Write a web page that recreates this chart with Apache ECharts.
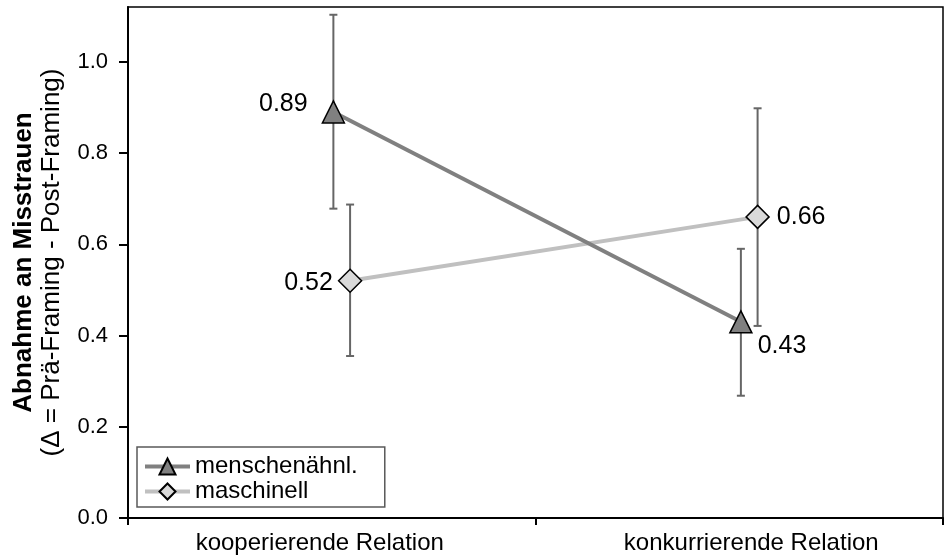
<!DOCTYPE html>
<html>
<head>
<meta charset="utf-8">
<script src="https://cdn.jsdelivr.net/npm/echarts@6/dist/echarts.min.js"></script>
<style>
  html, body { margin: 0; padding: 0; background: #fff; }
  #chart { width: 944px; height: 560px; }
</style>
</head>
<body>
<div id="chart"></div>
<script>
// data
var categories = ['kooperierende Relation', 'konkurrierende Relation'];
var menschMean = [0.89, 0.43];
var menschLow = [0.678, 0.268];
var menschHigh = [1.103, 0.59];
var maschMean = [0.52, 0.66];
var maschLow = [0.355, 0.421];
var maschHigh = [0.687, 0.898];
var yTicks = [0, 0.2, 0.4, 0.6, 0.8, 1.0];

var FONT = "'Liberation Sans', Arial, sans-serif";
// small horizontal shift of each group inside its category
var menschShift = 0.004;
var maschShift = 0.045;

// where the value labels sit around each point
var menschLabels = [
    { position: 'left', offset: [-9, -8] },
    { position: 'right', offset: [0, 24] }
];
var maschLabels = [
    { position: 'left', offset: [0, 2] },
    { position: 'right', offset: [2, 0] }
];

function points(mean, shift, labels) {
    return mean.map(function (v, i) {
        return { value: [i + 0.5 + shift, v], label: labels[i] };
    });
}
function bars(low, high, shift) {
    return low.map(function (v, i) { return [i + 0.5 + shift, v, high[i]]; });
}

function renderErrorBar(params, api) {
    var x = api.value(0);
    var lo = api.coord([x, api.value(1)]);
    var hi = api.coord([x, api.value(2)]);
    var half = 4;
    var style = { stroke: '#666666', lineWidth: 2 };
    return {
        type: 'group',
        children: [
            { type: 'line', shape: { x1: lo[0], y1: lo[1], x2: hi[0], y2: hi[1] }, style: style },
            { type: 'line', shape: { x1: lo[0] - half, y1: lo[1], x2: lo[0] + half, y2: lo[1] }, style: style },
            { type: 'line', shape: { x1: hi[0] - half, y1: hi[1], x2: hi[0] + half, y2: hi[1] }, style: style }
        ]
    };
}

var valueLabel = {
    show: true,
    fontSize: 25,
    color: '#000',
    fontFamily: FONT,
    distance: 5,
    formatter: function (p) { return p.value[1].toFixed(2); }
};

var chartDom = document.getElementById('chart');
var myChart = echarts.init(chartDom);
var option;

option = {
    animation: false,
    textStyle: { fontFamily: FONT },
    grid: {
        left: 128, right: 1, top: 7, bottom: 42,
        show: true, borderColor: '#000', borderWidth: 1.5
    },
    legend: {
        data: ['menschenähnl.', 'maschinell'],
        orient: 'vertical',
        left: 137,
        top: 447,
        padding: [7, 27, 3, 6],
        itemGap: 0,
        itemWidth: 45,
        itemHeight: 20,
        lineStyle: { width: 4 },
        borderColor: '#595959',
        borderWidth: 1.5,
        textStyle: { fontSize: 24, color: '#000', lineHeight: 25, fontFamily: FONT }
    },
    xAxis: [
        {
            type: 'value',
            min: 0,
            max: 2,
            interval: 1,
            axisLine: { lineStyle: { color: '#000', width: 2 } },
            axisTick: { show: true, length: 7, lineStyle: { color: '#000', width: 2 } },
            axisLabel: { show: false },
            splitLine: { show: false }
        },
        {
            type: 'category',
            data: categories,
            position: 'bottom',
            axisLine: { show: false },
            axisTick: { show: false },
            axisLabel: {
                margin: 13,
                color: '#000',
                formatter: function (v, i) {
                    return (i === 0 ? '{l|' : '{r|') + v + '}';
                },
                rich: {
                    l: { fontSize: 24, color: '#000', fontFamily: FONT, padding: [0, 24, 0, 0] },
                    r: { fontSize: 24, color: '#000', fontFamily: FONT, padding: [0, 0, 0, 24] }
                }
            }
        }
    ],
    yAxis: {
        type: 'value',
        min: 0,
        max: 1.12,
        interval: 0.2,
        name: '{t|Abnahme an Misstrauen}\n{s|(Δ = Prä-Framing - Post-Framing)}',
        nameLocation: 'middle',
        nameRotate: 90,
        nameGap: 62,
        nameTextStyle: {
            rich: {
                t: { fontSize: 26, fontWeight: 'bold', color: '#000', lineHeight: 28, fontFamily: FONT },
                s: { fontSize: 26, color: '#000', lineHeight: 28, fontFamily: FONT }
            }
        },
        axisLine: { show: true, lineStyle: { color: '#000', width: 2 } },
        axisTick: { show: true, length: 9, customValues: yTicks, lineStyle: { color: '#000', width: 2 } },
        axisLabel: {
            customValues: yTicks,
            margin: 20,
            fontSize: 22,
            color: '#000',
            fontFamily: FONT,
            formatter: function (v) { return v.toFixed(1); }
        },
        splitLine: { show: false }
    },
    series: [
        {
            name: 'err-mensch',
            type: 'custom',
            xAxisIndex: 0,
            renderItem: renderErrorBar,
            data: bars(menschLow, menschHigh, menschShift),
            z: 1
        },
        {
            name: 'err-masch',
            type: 'custom',
            xAxisIndex: 0,
            renderItem: renderErrorBar,
            data: bars(maschLow, maschHigh, maschShift),
            z: 1
        },
        {
            name: 'menschenähnl.',
            type: 'line',
            xAxisIndex: 0,
            data: points(menschMean, menschShift, menschLabels),
            symbol: 'triangle',
            symbolSize: 22,
            lineStyle: { color: '#808080', width: 4 },
            itemStyle: { color: '#808080', borderColor: '#000', borderWidth: 1.5 },
            z: 3,
            label: valueLabel
        },
        {
            name: 'maschinell',
            type: 'line',
            xAxisIndex: 0,
            data: points(maschMean, maschShift, maschLabels),
            symbol: 'diamond',
            symbolSize: 23,
            lineStyle: { color: '#c0c0c0', width: 4 },
            itemStyle: { color: '#d9d9d9', borderColor: '#000', borderWidth: 1.5 },
            z: 2,
            label: valueLabel
        }
    ]
};

option && myChart.setOption(option);
</script>
</body>
</html>
